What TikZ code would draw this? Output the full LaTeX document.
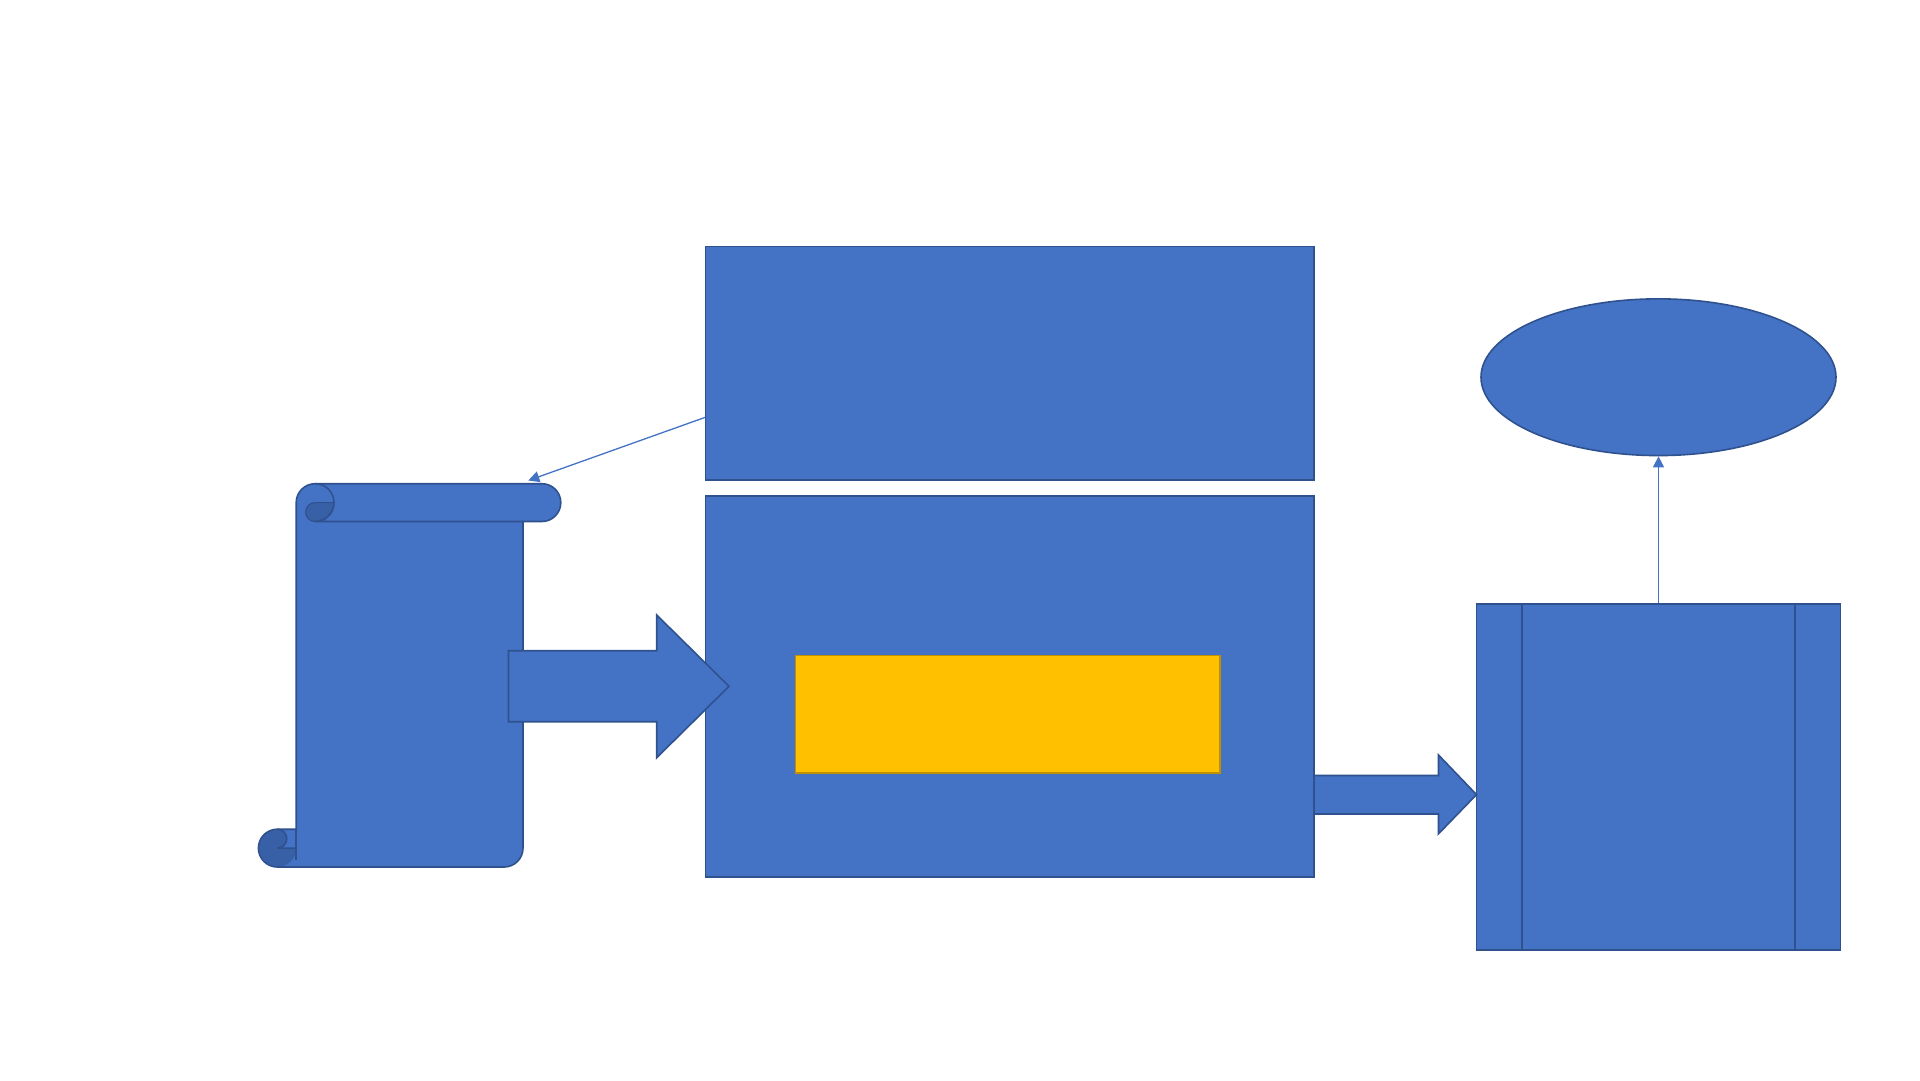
\documentclass[tikz,border=0pt]{standalone}
\usetikzlibrary{arrows.meta,shapes.geometric}
\definecolor{bfill}{HTML}{4472C4}
\definecolor{bline}{HTML}{2F528F}
\definecolor{bdark}{HTML}{3860A6}
\definecolor{yfill}{HTML}{FFC000}
\definecolor{yline}{HTML}{BF9000}
\tikzset{
  bluebox/.style={rectangle,draw=bline,fill=bfill,line width=1.6pt,inner sep=0pt},
  yellowbox/.style={rectangle,draw=yline,fill=yfill,line width=1.8pt,inner sep=0pt},
  blockarrow/.style={draw=bline,fill=bfill,line width=1.6pt,line join=miter},
  thinarrow/.style={draw=bfill,line width=1.3pt,-{Triangle[length=11pt,width=11pt]}},
  scrollline/.style={draw=bline,line width=1.6pt},
}
\begin{document}
\begin{tikzpicture}[x=1pt,y=-1pt]
\useasboundingbox[fill=white] (0,0) rectangle (1920,1080);

% ---- scroll ----
\path[fill=bfill] (277.3,867) -- (504.1,867) arc[start angle=90,end angle=0,radius=18.9]
  -- (523,521.5) -- (541.9,521.5) arc[start angle=90,end angle=-90,radius=18.9]
  -- (315.1,483.7) arc[start angle=270,end angle=180,radius=18.9]
  -- (296.2,829.2) -- (277.3,829.2) arc[start angle=270,end angle=90,radius=18.9] -- cycle;
% dark parts
\path[fill=bdark] (277.3,848.1) circle[radius=18.9];
\path[fill=bfill] (277.3,829.2) -- (296.2,829.2) -- (296.2,848.1) -- (277.3,848.1)
  arc[start angle=90,end angle=-90,radius=9.45] -- cycle;
\path[fill=bdark,draw=bline,line width=1.2pt] (334.0,502.6) arc[start angle=0,end angle=90,radius=18.9]
  arc[start angle=90,end angle=270,radius=9.45] -- cycle;
% outlines
\path[scrollline,line join=round] (277.3,867) -- (504.1,867) arc[start angle=90,end angle=0,radius=18.9]
  -- (523,521.5) -- (541.9,521.5) arc[start angle=90,end angle=-90,radius=18.9]
  -- (315.1,483.7) arc[start angle=270,end angle=180,radius=18.9]
  -- (296.2,829.2) -- (277.3,829.2) arc[start angle=270,end angle=90,radius=18.9] -- cycle;
\path[scrollline] (315.1,483.7) arc[start angle=270,end angle=450,radius=18.9] -- (523,521.5);
\path[scrollline] (296.2,829.2) -- (296.2,860);
\path[scrollline] (277.3,829.2) arc[start angle=270,end angle=450,radius=9.45] -- (296.2,848.1);
\coordinate (scrolltop) at (528.3,480.5);

% ---- rectangles ----
\node[bluebox,minimum width=608.6pt,minimum height=233.4pt] (top) at (1009.8,363.1) {};
\node[bluebox,minimum width=608.6pt,minimum height=380.7pt] (mid) at (1009.8,686.4) {};
\node[yellowbox,minimum width=424.5pt,minimum height=117.2pt] (inner) at (1007.7,714.1) {};

% ---- block arrows ----
\path[blockarrow] (508.5,650.7) -- (656.7,650.7) -- (656.7,615) -- (729,686.3)
  -- (656.7,757.7) -- (656.7,721.7) -- (508.5,721.7) -- cycle;

% ---- right side ----
\node[bluebox,minimum width=363.7pt,minimum height=346.2pt] (box) at (1658.5,777.1) {};
\draw[draw=bline,line width=1.6pt] (1522,604) -- (1522,950.2);
\draw[draw=bline,line width=1.6pt] (1795,604) -- (1795,950.2);
\node[ellipse,draw=bline,fill=bfill,line width=1.6pt,inner sep=0pt,
  minimum width=355pt,minimum height=156.7pt] (ell) at (1658.5,377.2) {};

\path[blockarrow] (1314,775.5) -- (1438.5,775.5) -- (1438.5,755) -- (1476.5,794.6)
  -- (1438.5,833.8) -- (1438.5,814) -- (1314,814) -- cycle;

% ---- thin connectors ----
\coordinate (topstart) at (705.3,417.3);
\draw[thinarrow] (topstart) -- (scrolltop);
\draw[thinarrow] (box.north) -- (ell.south);
\end{tikzpicture}
\end{document}
